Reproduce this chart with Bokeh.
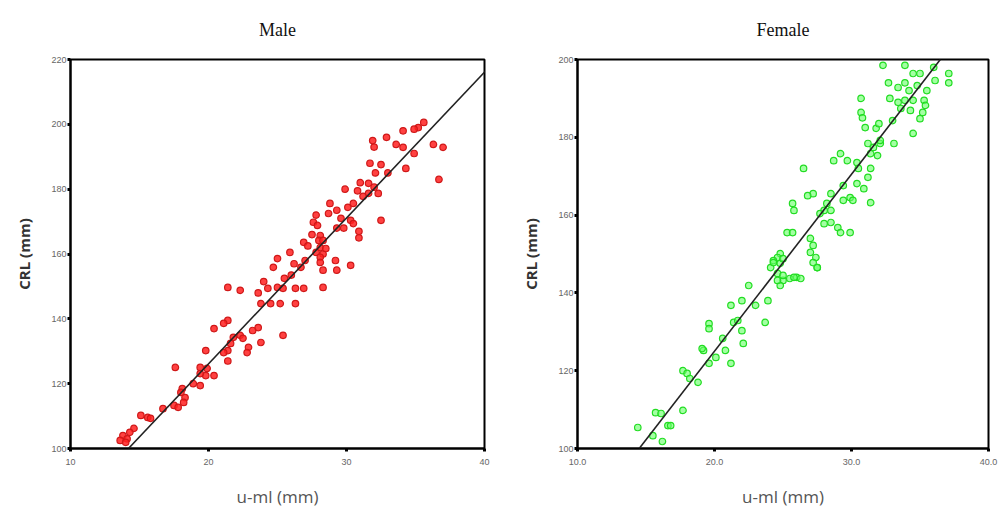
from bokeh.plotting import figure
from bokeh.layouts import row
from bokeh.models import Slope, FixedTicker, PrintfTickFormatter, Range1d
from bokeh.embed import file_html
from bokeh.resources import INLINE

# ---------------- data ----------------
male_x = [35.6, 35.2, 34.9, 34.1, 36.3, 37.0, 32.9, 33.6, 34.1, 34.9, 31.9, 32.0, 31.7, 32.5, 33.0,
          34.3, 36.7, 32.1, 31.6, 32.0, 31.6, 32.3, 29.9, 31.2, 30.5, 30.1, 28.8, 29.3, 28.7, 29.6,
          30.3, 30.5, 32.5, 27.8, 27.6, 27.9, 29.3, 29.8, 30.9, 30.9, 28.1, 28.0, 28.1, 28.3, 26.9,
          28.3, 28.5, 27.8, 25.9, 25.0, 24.7, 28.1, 28.1, 29.2, 29.3, 30.3, 26.2, 26.7, 27.0, 28.3,
          21.4, 22.3, 23.6, 24.3, 25.0, 25.4, 26.3, 26.9, 28.3, 23.8, 24.5, 25.2, 26.3, 25.4, 21.4,
          21.1, 20.4, 21.8, 21.6, 22.3, 22.5, 23.2, 23.6, 23.8, 22.9, 22.8, 21.4, 21.1, 19.8, 21.4,
          17.6, 19.4, 19.9, 19.8, 20.4, 19.4, 18.9, 19.4, 18.1, 18.0, 18.3, 18.2, 17.5, 17.8, 16.7,
          15.1, 15.6, 15.8, 14.6, 14.3, 13.8, 14.1, 13.6, 14.0, 25.5, 24.0, 26.0, 27.2, 27.5, 31.0,
          30.8]
male_y = [200.6, 199.0, 198.5, 198.0, 193.8, 192.9, 196.0, 193.8, 192.9, 191.0, 195.0, 193.0, 188.0, 187.6, 185.0,
          186.4, 183.0, 185.0, 181.8, 180.6, 178.7, 178.7, 180.0, 177.8, 175.6, 174.4, 175.6, 173.5, 172.5, 171.0,
          170.4, 169.4, 170.4, 172.0, 169.8, 168.8, 168.0, 168.0, 167.0, 165.0, 165.7, 164.2, 162.0, 164.2, 163.6,
          160.0, 161.7, 160.5, 160.5, 158.6, 155.9, 159.0, 157.4, 158.0, 155.0, 156.5, 157.0, 155.9, 158.0, 155.0,
          149.7, 148.8, 148.0, 149.4, 149.7, 149.4, 149.4, 149.4, 149.7, 144.7, 144.7, 144.7, 144.7, 134.9, 139.5,
          138.6, 137.0, 134.3, 132.4, 134.9, 134.0, 136.4, 137.3, 132.7, 131.2, 129.6, 130.2, 129.6, 130.2, 127.0,
          125.0, 125.0, 124.7, 122.5, 122.5, 123.1, 120.0, 119.4, 118.5, 117.3, 115.7, 114.2, 113.3, 112.7, 112.3,
          110.2, 109.6, 109.3, 106.2, 105.0, 104.0, 103.0, 102.5, 101.9, 152.5, 151.5, 153.5, 162.5, 166.0, 182.0,
          179.5]

female_x = [32.3, 33.9, 35.0, 34.5, 36.0, 37.1, 37.1, 36.1, 32.7, 33.4, 33.9, 34.2, 34.8, 35.5, 32.8,
            33.4, 33.9, 34.5, 35.3, 33.6, 34.3, 35.2, 35.4, 35.0, 34.5, 30.7, 30.7, 30.8, 31.0, 31.8,
            32.0, 33.0, 31.2, 31.6, 32.1, 33.1, 32.1, 31.4, 31.9, 28.7, 29.2, 29.7, 30.4, 26.5, 30.5,
            31.4, 31.2, 30.4, 30.9, 31.4, 29.4, 29.9, 27.2, 26.8, 28.5, 28.2, 28.0, 27.7, 28.5, 25.7,
            25.8, 29.4, 30.1, 28.0, 28.5, 29.0, 29.2, 29.9, 25.3, 25.7, 27.0, 27.2, 27.0, 27.4, 27.5,
            24.8, 24.6, 24.3, 24.1, 24.8, 25.0, 24.6, 25.0, 25.5, 26.0, 24.8, 22.5, 24.3, 25.0, 24.6,
            25.8, 26.3, 27.2, 27.5, 21.2, 22.0, 23.0, 23.9, 21.4, 21.7, 19.6, 19.6, 23.7, 20.6, 22.0,
            22.1, 19.2, 19.1, 20.8, 20.1, 19.6, 21.2, 17.7, 18.0, 18.2, 18.8, 17.7, 15.7, 16.1, 16.6,
            16.8, 14.4, 15.5, 16.2]
female_y = [198.5, 198.5, 196.4, 196.4, 198.0, 196.4, 194.0, 194.6, 194.0, 192.8, 194.0, 192.0, 193.3, 192.0, 190.0,
            189.0, 189.5, 189.5, 189.5, 187.4, 186.9, 186.4, 188.2, 184.8, 181.0, 190.0, 186.4, 185.0, 182.5, 182.3,
            183.5, 184.3, 178.4, 177.4, 178.4, 178.4, 179.2, 175.8, 175.3, 174.0, 175.8, 174.0, 173.5, 172.0, 172.0,
            172.0, 169.7, 168.1, 166.8, 163.2, 167.6, 164.5, 165.5, 165.0, 165.5, 163.0, 161.2, 160.4, 161.2, 163.0,
            161.2, 163.8, 163.8, 157.8, 158.1, 156.8, 155.5, 155.5, 155.5, 155.5, 154.0, 152.2, 150.4, 149.1, 146.5,
            150.1, 149.1, 148.3, 146.5, 147.6, 148.8, 145.0, 143.2, 143.7, 144.0, 141.9, 141.9, 147.8, 144.5, 143.2,
            144.0, 143.7, 147.8, 146.5, 136.8, 138.0, 136.8, 138.0, 132.4, 132.9, 132.1, 130.8, 132.4, 128.3, 130.3,
            127.0, 125.2, 125.7, 125.2, 123.4, 121.9, 121.9, 120.0, 119.3, 118.0, 117.0, 109.8, 109.2, 109.0, 105.9,
            105.9, 105.4, 103.3, 101.8]

male_fit = (36.1, 4.5)      # intercept, slope
female_fit = (34.0, 4.55)

male_xticks = [10, 20, 30, 40]
male_yticks = [100, 120, 140, 160, 180, 200, 220]
female_xticks = [10, 20, 30, 40]
female_yticks = [100, 120, 140, 160, 180, 200]


def make(title, xs, ys, fit, xticks, yticks, yr, fmt, fw, left, right, color, line, fill_alpha):
    p = figure(output_backend="svg", toolbar_location=None,
               frame_width=fw, frame_height=389,
               min_border_left=left, min_border_right=right,
               min_border_top=59, min_border_bottom=64,
               x_range=Range1d(10, 40), y_range=Range1d(*yr),
               background_fill_color="white", border_fill_color="white")
    p.title.text = title
    p.title.text_font = "Liberation Serif"
    p.title.text_font_size = "18px"
    p.title.text_font_style = "normal"
    p.title.text_color = "#111111"
    p.title.align = "center"
    p.title.vertical_align = "top"
    p.title.standoff = 35
    p.grid.visible = False
    p.outline_line_color = "black"
    p.outline_line_width = 2
    p.outline_line_alpha = 1

    for ax in (p.xaxis[0], p.yaxis[0]):
        ax.axis_line_color = "black"
        ax.axis_line_width = 2
        ax.major_tick_line_color = "black"
        ax.major_tick_line_width = 3
        ax.major_tick_out = 3
        ax.major_tick_in = 0
        ax.minor_tick_line_color = None
        ax.major_label_text_font = "Liberation Sans"
        ax.major_label_text_font_size = "9px"
        ax.major_label_text_color = "#666666"

    p.xaxis.ticker = FixedTicker(ticks=xticks)
    p.yaxis.ticker = FixedTicker(ticks=yticks)
    if fmt:
        p.xaxis.formatter = PrintfTickFormatter(format=fmt)
    p.xaxis.major_label_standoff = 7
    p.yaxis.major_label_standoff = 1

    p.xaxis.axis_label = "u-ml (mm)"
    p.xaxis.axis_label_text_font = "Open Sans"
    p.xaxis.axis_label_text_font_size = "17px"
    p.xaxis.axis_label_text_font_style = "normal"
    p.xaxis.axis_label_text_color = "#555555"
    p.xaxis.axis_label_standoff = 17

    p.yaxis.axis_label = "CRL (mm)"
    p.yaxis.axis_label_text_font = "Open Sans"
    p.yaxis.axis_label_text_font_size = "15px"
    p.yaxis.axis_label_text_font_style = "bold"
    p.yaxis.axis_label_text_color = "#333333"
    p.yaxis.axis_label_standoff = 14

    p.scatter(xs, ys, size=6.5, marker="circle", fill_color=color, fill_alpha=fill_alpha,
              line_color=line, line_width=1.2)
    p.add_layout(Slope(gradient=fit[1], y_intercept=fit[0], line_color="#222222", line_width=1.6))
    return p


p1 = make("Male", male_x, male_y, male_fit, male_xticks, male_yticks, (100, 220), None,
          414, 70, 24, "#ff2020", "#d01818", 0.85)
p2 = make("Female", female_x, female_y, female_fit, female_xticks, female_yticks, (100, 200), "%.1f",
          411, 69, 11, "#66ff66", "#22dd22", 0.6)

p = row(p1, p2)
open("out.html", "w").write(file_html(p, INLINE))
